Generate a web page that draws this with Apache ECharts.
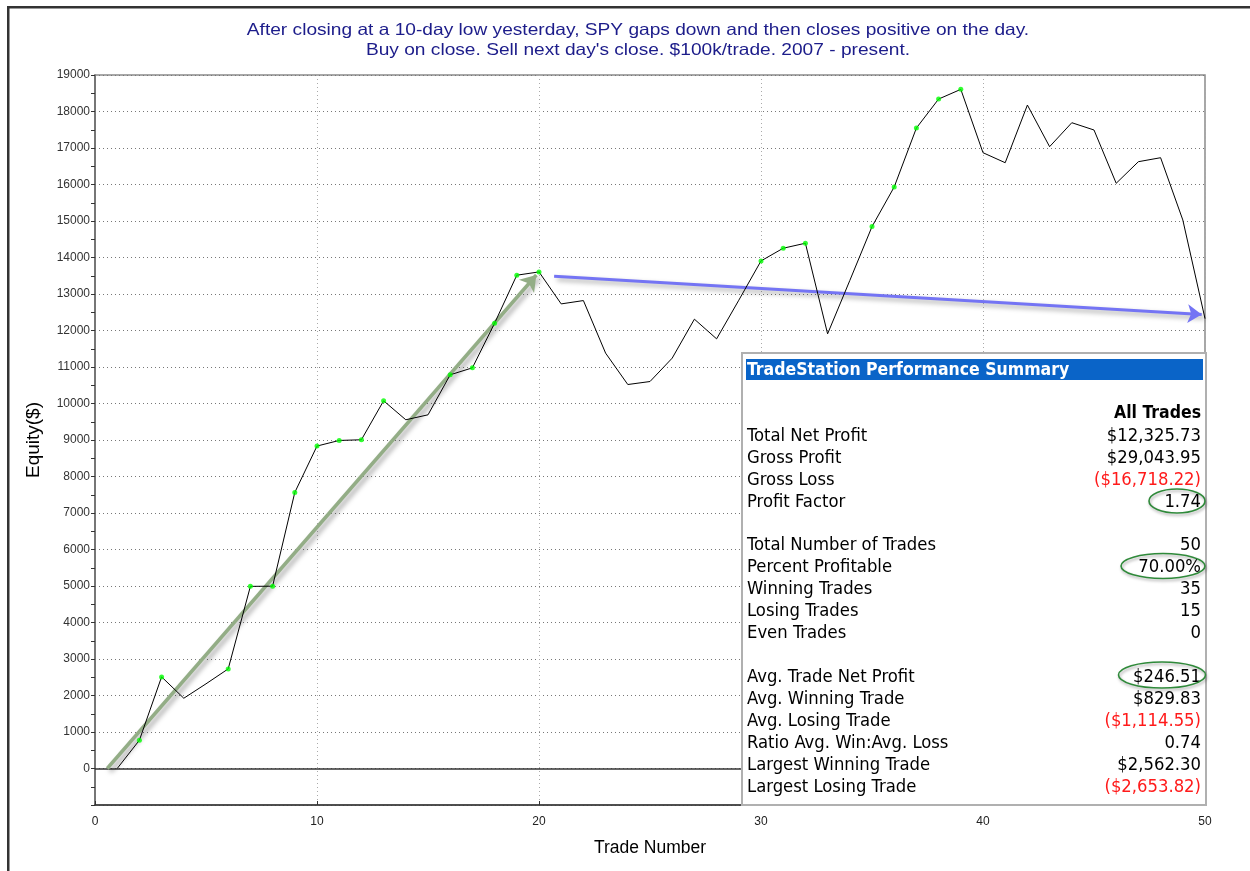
<!DOCTYPE html>
<html>
<head>
<meta charset="utf-8">
<script src="https://cdn.jsdelivr.net/npm/echarts@6/dist/echarts.min.js"></script>
<style>
  html, body { margin: 0; padding: 0; background: #ffffff; }
  #chart { width: 1250px; height: 871px; }
</style>
</head>
<body>
<div id="chart"></div>
<script>
// ---- data ----
const titleLines = [
  "After closing at a 10-day low yesterday, SPY gaps down and then closes positive on the day.",
  "Buy on close. Sell next day's close. $100k/trade. 2007 - present."
];
const trades = [1,2,3,4,5,6,7,8,9,10,11,12,13,14,15,16,17,18,19,20,21,22,23,24,25,
                26,27,28,29,30,31,32,33,34,35,36,37,38,39,40,41,42,43,44,45,46,47,48,49,50];
const equity = [0, 775, 2510, 1925, 2320, 2729, 4990, 4995, 7564, 8834,
                8988, 9006, 10074, 9554, 9690, 10786, 10977, 12200, 13515, 13605,
                12729, 12820, 11380, 10520, 10602, 11243, 12310, 11771, 12830, 13906,
                14254, 14391, 11908, 13370, 14846, 15932, 17547, 18341, 18607, 16871,
                16597, 18177, 17036, 17693, 17493, 16033, 16625, 16734, 15029, 12326];
const newHighTrades = [2,3,6,7,8,9,10,11,12,13,16,17,18,19,20,30,31,32,35,36,37,38,39];
const greenArrow = [[0.55, 0], [19.88, 13520]];
const blueArrow = [[20.68, 13487], [49.85, 12440]];
const xTicks = [0, 10, 20, 30, 40, 50];
const yTicks = [0,1000,2000,3000,4000,5000,6000,7000,8000,9000,10000,11000,12000,13000,14000,15000,16000,17000,18000,19000];

const summaryTitle = "TradeStation Performance Summary";
const summaryHeader = "All Trades";
const summaryLabels = [
  "Total Net Profit", "Gross Profit", "Gross Loss", "Profit Factor", "",
  "Total Number of Trades", "Percent Profitable", "Winning Trades", "Losing Trades", "Even Trades", "",
  "Avg. Trade Net Profit", "Avg. Winning Trade", "Avg. Losing Trade", "Ratio Avg. Win:Avg. Loss",
  "Largest Winning Trade", "Largest Losing Trade"
];
const summaryValues = [
  "$12,325.73", "$29,043.95", "($16,718.22)", "1.74", "",
  "50", "70.00%", "35", "15", "0", "",
  "$246.51", "$829.83", "($1,114.55)", "0.74", "$2,562.30", "($2,653.82)"
];
const circledRows = [3, 6, 11];

// ---- build ----
const lineData = trades.map((t, i) => [t, equity[i]]);
const highData = newHighTrades.map(t => [t, equity[trades.indexOf(t)]]);

const tblLeft = 747, tblRight = 1201, rowTop = 436, rowH = 21.95;
const tableFont = '"DejaVu Sans Condensed", "DejaVu Sans", sans-serif';
const sansFont = '"Liberation Sans", Arial, sans-serif';
const graphics = [];
// title lines (slightly widened like the original rendering)
titleLines.forEach((t, i) => {
  graphics.push({ type: 'text', x: 638, y: 30 + i * 20.5, scaleX: 1.16, z: 100,
    style: { text: t, fill: '#1c1c8a', font: '16.5px ' + sansFont, textAlign: 'center', textVerticalAlign: 'middle' } });
});
// outer window frame
graphics.push({ type: 'rect', shape: { x: 7, y: 6, width: 1260, height: 2.5 }, style: { fill: '#333' }, z: 100 });
graphics.push({ type: 'rect', shape: { x: 7, y: 6, width: 2.5, height: 880 }, style: { fill: '#333' }, z: 100 });
// summary box
graphics.push({ type: 'rect', shape: { x: 742, y: 353, width: 464, height: 452 },
  style: { fill: '#fff', stroke: '#b0b0b0', lineWidth: 2 }, z: 100 });
graphics.push({ type: 'rect', shape: { x: 746, y: 359, width: 457, height: 21 },
  style: { fill: '#0a64c8' }, z: 101 });
graphics.push({ type: 'text', x: 747, y: 370, z: 102,
  style: { text: summaryTitle, fill: '#fff', font: 'bold 17.5px ' + tableFont, textVerticalAlign: 'middle' } });
graphics.push({ type: 'text', x: tblRight, y: 413, z: 102,
  style: { text: summaryHeader, fill: '#000', font: 'bold 17.5px ' + tableFont, textAlign: 'right', textVerticalAlign: 'middle' } });
summaryLabels.forEach((lab, i) => {
  const y = rowTop + i * rowH;
  if (lab) graphics.push({ type: 'text', x: tblLeft, y: y, z: 102,
    style: { text: lab, fill: '#000', font: '18.3px ' + tableFont, textVerticalAlign: 'middle' } });
  const v = summaryValues[i];
  if (v) graphics.push({ type: 'text', x: tblRight, y: y, z: 102,
    style: { text: v, fill: v.startsWith('(') ? '#ff1a1a' : '#000', font: '18.3px ' + tableFont,
             textAlign: 'right', textVerticalAlign: 'middle' } });
});
// green hand-drawn ellipses around key figures
const ellipseShapes = [
  { cx: 1177, cy: 501, rx: 28, ry: 12 },
  { cx: 1163, cy: 566, rx: 42, ry: 12.5 },
  { cx: 1162, cy: 675, rx: 43.5, ry: 13 }
];
ellipseShapes.forEach(s => {
  graphics.push({ type: 'ellipse', z: 103, shape: s,
    style: { fill: 'none', stroke: '#2f8a3a', lineWidth: 1.6,
             shadowBlur: 3, shadowColor: 'rgba(0,0,0,0.35)', shadowOffsetX: 1, shadowOffsetY: 2 } });
});

const chart = echarts.init(document.getElementById('chart'), null, { renderer: 'canvas' });
chart.setOption({
  backgroundColor: '#ffffff',
  animation: false,
  grid: { left: 95, right: 45, top: 75, bottom: 66, show: true,
          borderColor: '#8a8a8a', borderWidth: 1.5, backgroundColor: 'transparent' },
  xAxis: {
    type: 'value', min: 0, max: 50, interval: 10,
    name: 'Trade Number', nameLocation: 'middle', nameGap: 34,
    nameTextStyle: { fontSize: 17.5, color: '#000', fontFamily: sansFont },
    axisLine: { onZero: false, lineStyle: { color: '#333', width: 1.5 } },
    axisTick: { show: true, inside: true, length: 4, lineStyle: { color: '#333' } },
    minorTick: { show: false },
    axisLabel: { color: '#222', fontSize: 12, margin: 11, fontFamily: sansFont,
                 formatter: v => xTicks.includes(v) ? String(v) : '' },
    splitLine: { show: true, lineStyle: { color: '#aaaaaa', type: [1, 3], width: 1 } }
  },
  yAxis: {
    type: 'value', min: -1000, max: 19000, interval: 1000,
    name: 'Equity($)', nameLocation: 'middle', nameGap: 52, nameRotate: 90,
    nameTextStyle: { fontSize: 19, color: '#000', fontFamily: sansFont },
    axisLine: { show: true, lineStyle: { color: '#666', width: 1.5 } },
    axisTick: { show: true, length: 4, lineStyle: { color: '#333' } },
    minorTick: { show: true, splitNumber: 2, length: 4, lineStyle: { color: '#333' } },
    axisLabel: { color: '#333', fontSize: 12, margin: 5, fontFamily: sansFont,
                 formatter: v => yTicks.includes(v) ? String(v) : '' },
    splitLine: { show: true, lineStyle: { color: '#777', type: [1, 3], width: 1 } }
  },
  series: [
    {
      name: 'Equity', type: 'line', data: lineData, showSymbol: false, symbol: 'none',
      lineStyle: { color: '#000', width: 1 }, z: 5,
      markLine: {
        silent: true, symbol: 'none', label: { show: false },
        lineStyle: { color: '#333', width: 1.5, type: 'solid' },
        data: [{ yAxis: 0 }]
      }
    },
    {
      name: 'New High', type: 'scatter', data: highData, symbol: 'circle', symbolSize: 5,
      itemStyle: { color: '#00ff00' }, z: 6
    },
    {
      name: 'GreenArrow', type: 'line', data: [], z: 4,
      markLine: {
        silent: true, symbol: ['none', 'arrow'], symbolSize: 15, label: { show: false },
        itemStyle: { color: '#93ad86' },
        lineStyle: { color: '#93ad86', width: 3.5, type: 'solid',
                     shadowBlur: 5, shadowColor: 'rgba(0,0,0,0.35)', shadowOffsetX: 3, shadowOffsetY: 3 },
        data: [[{ coord: greenArrow[0] }, { coord: greenArrow[1] }]]
      }
    },
    {
      name: 'BlueArrow', type: 'line', data: [], z: 4,
      markLine: {
        silent: true, symbol: ['none', 'arrow'], symbolSize: 14, label: { show: false },
        itemStyle: { color: '#7474f4' },
        lineStyle: { color: '#7474f4', width: 3, type: 'solid',
                     shadowBlur: 5, shadowColor: 'rgba(0,0,0,0.35)', shadowOffsetX: 3, shadowOffsetY: 3 },
        data: [[{ coord: blueArrow[0] }, { coord: blueArrow[1] }]]
      }
    }
  ],
  graphic: graphics
});
</script>
</body>
</html>
